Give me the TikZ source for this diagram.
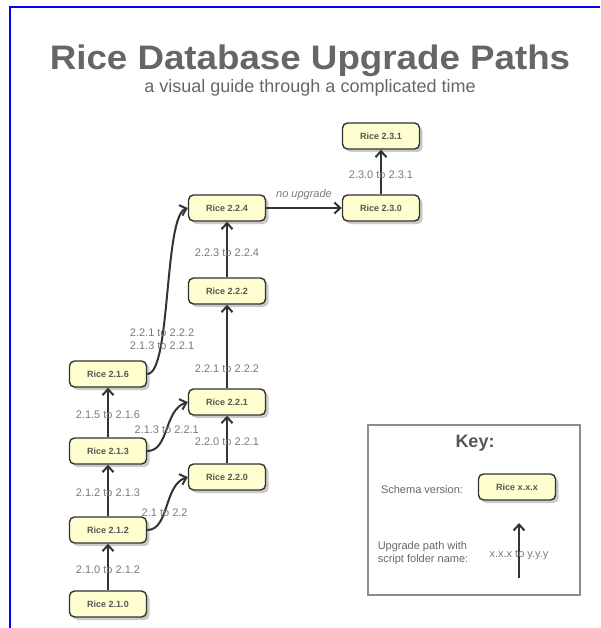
\documentclass[tikz,border=0pt]{standalone}
\usepackage{fontspec}
\setmainfont{Liberation Sans}
\usepackage{graphicx}
\usetikzlibrary{
  arrows.meta
  , shadows
  , positioning
}
\definecolor{RiceFill}{HTML}{FEFECE}
\definecolor{RiceLine}{HTML}{333333}
\definecolor{RiceText}{HTML}{555555}
\definecolor{TitleGray}{HTML}{666666}
\definecolor{LabelGray}{HTML}{7A7A7A}
\definecolor{KeyGray}{HTML}{8C8C8C}

\begin{document}
\begin{tikzpicture}[x=1pt, y=-1pt,
    RiceNode/.style={draw=RiceLine, fill=RiceFill, line width=1.4pt,
      rounded corners=5pt, minimum width=77pt, minimum height=26pt, inner sep=0pt,
      font=\fontsize{9}{10}\selectfont\bfseries, text=RiceText,
      drop shadow={shadow xshift=3pt, shadow yshift=-3pt, fill=black!35, opacity=0.6}},
    UpPath/.style={draw=RiceLine, line width=2pt,
      -{Straight Barb[length=6pt,width=11pt]}},
    PathLabel/.style={font=\fontsize{11}{13}\selectfont, text=LabelGray, inner sep=0pt},
    KeyText/.style={font=\fontsize{11}{13}\selectfont, text=TitleGray, inner sep=0pt},
  ]
  \useasboundingbox (0,0) rectangle (600,628);
  \draw[blue, line width=2pt] (10,628) |- (600,7);

  % title
  \node[anchor=base, text=TitleGray, font=\fontsize{34}{40}\selectfont\bfseries]
    (Title) at (310,70) {\scalebox{1.08}[1]{Rice Database Upgrade Paths}};
  \node[anchor=base, text=TitleGray, font=\fontsize{18}{21}\selectfont]
    (SubTitle) at (310,93) {a visual guide through a complicated time};

  % schema versions
  \node[RiceNode] (Rice210) at (108,604) {Rice 2.1.0};
  \node[RiceNode] (Rice212) at (108,530) {Rice 2.1.2};
  \node[RiceNode] (Rice213) at (108,451) {Rice 2.1.3};
  \node[RiceNode] (Rice216) at (108,374) {Rice 2.1.6};
  \node[RiceNode] (Rice220) at (227,477) {Rice 2.2.0};
  \node[RiceNode] (Rice221) at (227,402) {Rice 2.2.1};
  \node[RiceNode] (Rice222) at (227,291) {Rice 2.2.2};
  \node[RiceNode] (Rice224) at (227,208) {Rice 2.2.4};
  \node[RiceNode] (Rice230) at (381,208) {Rice 2.3.0};
  \node[RiceNode] (Rice231) at (381,136) {Rice 2.3.1};

  % upgrade paths
  \draw[UpPath] (Rice210) -- node[PathLabel, pos=0.45]{2.1.0 to 2.1.2} (Rice212);
  \draw[UpPath] (Rice212) -- node[PathLabel, pos=0.45]{2.1.2 to 2.1.3} (Rice213);
  \draw[UpPath] (Rice213) -- node[PathLabel, pos=0.45]{2.1.5 to 2.1.6} (Rice216);
  \draw[UpPath] (Rice220) -- node[PathLabel, pos=0.45]{2.2.0 to 2.2.1} (Rice221);
  \draw[UpPath] (Rice221) -- node[PathLabel, pos=0.23]{2.2.1 to 2.2.2} (Rice222);
  \draw[UpPath] (Rice222) -- node[PathLabel, pos=0.45]{2.2.3 to 2.2.4} (Rice224);
  \draw[UpPath] (Rice230) -- node[PathLabel, pos=0.45]{2.3.0 to 2.3.1} (Rice231);

  \draw[UpPath] (Rice212.east) .. controls +(22,0) and +(-24,8) .. 
    node[PathLabel, pos=0.42]{2.1 to 2.2} (Rice220.west);
  \draw[UpPath] (Rice213.east) .. controls +(22,0) and +(-24,8) ..
    node[PathLabel, pos=0.5]{2.1.3 to 2.2.1} (Rice221.west);
  \draw[UpPath] (Rice216.east) .. controls +(24,0) and +(-24,8) ..
    node[PathLabel, pos=0.3, align=center]{2.2.1 to 2.2.2\\2.1.3 to 2.2.1} (Rice224.west);

  \draw[UpPath] (Rice224) -- node[PathLabel, above=7pt, font=\fontsize{11}{13}\selectfont\itshape]
    {no upgrade} (Rice230);

  % key
  \draw[KeyGray, line width=1.3pt] (368,425) rectangle (580,595);
  \node[text=RiceText, font=\fontsize{18}{21}\selectfont\bfseries] (KeyTitle) at (475,443) {Key:};
  \node[KeyText] (KeySchema) at (422,490) {Schema version:};
  \node[RiceNode] (RiceKey) at (517,487) {Rice x.x.x};
  \node[KeyText, align=left] (KeyPath) at (423,553) {Upgrade path with\\script folder name:};
  \coordinate (KeyTail) at (519,578);
  \coordinate (KeyHead) at (519,523);
  \draw[UpPath] (KeyTail) -- node[PathLabel, pos=0.42]{x.x.x to y.y.y} (KeyHead);
\end{tikzpicture}
\end{document}
